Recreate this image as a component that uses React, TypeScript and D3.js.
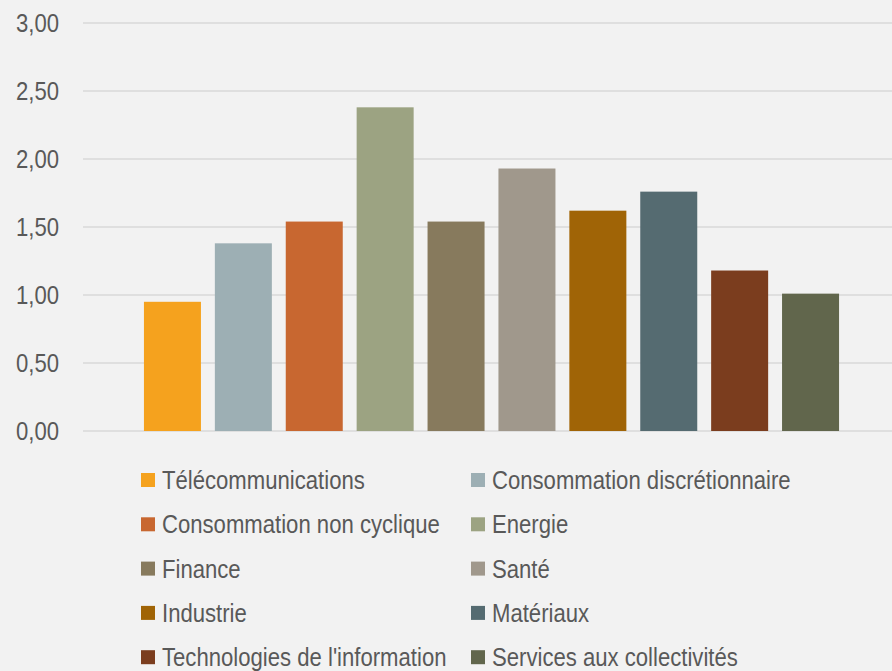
import React, { useRef, useEffect } from 'react';
import * as d3 from 'd3';

const categories = [
  'Télécommunications',
  'Consommation discrétionnaire',
  'Consommation non cyclique',
  'Energie',
  'Finance',
  'Santé',
  'Industrie',
  'Matériaux',
  "Technologies de l'information",
  'Services aux collectivités',
];
const values = [0.95, 1.38, 1.54, 2.38, 1.54, 1.93, 1.62, 1.76, 1.18, 1.01];
const colors = [
  '#f5a21e', '#9dafb4', '#c86730', '#9ca382', '#877a5d',
  '#a0988c', '#a06406', '#556b71', '#7b3d1e', '#61664c',
];
const yTicks = [0, 0.5, 1, 1.5, 2, 2.5, 3];

const W = 892;
const H = 671;
const FONT = "'Liberation Sans', Arial, sans-serif";
const SQUEEZE = 0.885; // the original font is a narrow one

const BarChart = () => {
  const svgRef = useRef<SVGSVGElement>(null);

  useEffect(() => {
    document.body.style.margin = '0';
    const svg = d3.select(svgRef.current);
    svg.selectAll('*').remove();

    svg.append('rect').attr('width', W).attr('height', H).attr('fill', '#f2f2f2');

    const yScale = d3.scaleLinear().domain([0, 3]).range([431, 23]);
    const xScale = d3.scaleBand()
      .domain(categories)
      .range([137, 846])
      .paddingInner(0.196)
      .paddingOuter(0.098);

    const fmt = (v: number) => v.toFixed(2).replace('.', ',');

    // gridlines + tick labels
    const grid = svg.append('g');
    grid.selectAll('line')
      .data(yTicks)
      .enter()
      .append('line')
      .attr('x1', 83)
      .attr('x2', W)
      .attr('y1', d => yScale(d))
      .attr('y2', d => yScale(d))
      .attr('stroke', '#d9d9d9')
      .attr('stroke-width', 1.5);

    grid.selectAll('text')
      .data(yTicks)
      .enter()
      .append('text')
      .attr('transform', d => `translate(59,${yScale(d)}) scale(${SQUEEZE},1)`)
      .attr('dy', '0.36em')
      .attr('text-anchor', 'end')
      .style('font-family', FONT)
      .style('font-size', '25px')
      .style('fill', '#595959')
      .text(d => fmt(d));

    // bars
    svg.append('g')
      .selectAll('rect')
      .data(values)
      .enter()
      .append('rect')
      .attr('x', (d, i) => xScale(categories[i]) as number)
      .attr('y', d => yScale(d))
      .attr('width', xScale.bandwidth())
      .attr('height', d => yScale(0) - yScale(d))
      .attr('fill', (d, i) => colors[i]);

    // legend, two columns
    const legend = svg.append('g');
    const items = legend.selectAll('g')
      .data(categories)
      .enter()
      .append('g')
      .attr('transform', (d, i) => {
        const col = i % 2;
        const row = Math.floor(i / 2);
        return `translate(${col === 0 ? 141 : 471},${473 + row * 44.3})`;
      });

    items.append('rect')
      .attr('width', 14)
      .attr('height', 14)
      .attr('fill', (d, i) => colors[i]);

    items.append('text')
      .attr('transform', `translate(21,7) scale(${SQUEEZE},1)`)
      .attr('dy', '0.36em')
      .style('font-family', FONT)
      .style('font-size', '25px')
      .style('fill', '#595959')
      .text(d => d);
  }, []);

  return (
    <svg ref={svgRef} width={W} height={H} style={{ display: 'block' }}></svg>
  );
};

export default function App() {
  return <BarChart />;
}
